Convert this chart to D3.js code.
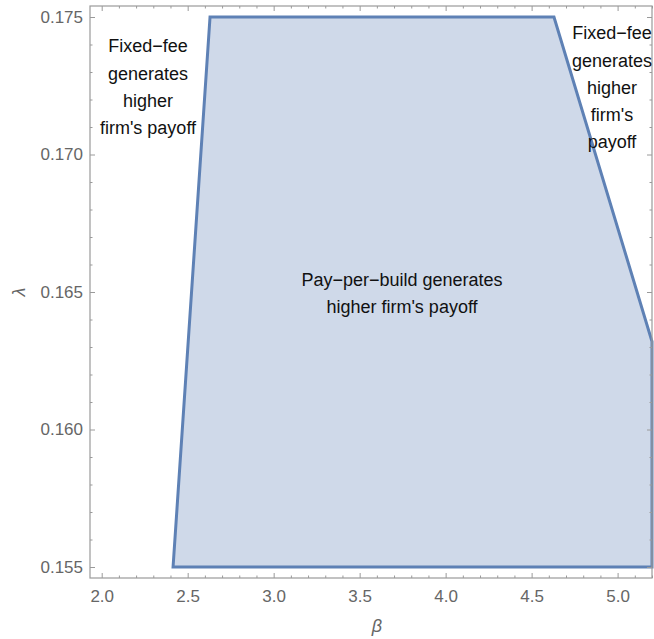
<!DOCTYPE html>
<html>
<head>
<meta charset="utf-8">
<script src="https://cdn.jsdelivr.net/npm/d3@7"></script>
<style>
	body { margin: 0; background: #fff; }
	svg { display: block; font-family: "Liberation Sans", Arial, sans-serif; }
	.tick text { fill: #666; font-size: 17px; }
	.note { fill: #111; font-size: 18px; }
</style>
</head>
<body>
<svg width="654" height="639"></svg>
<script>
// Region boundary (beta, lambda)
var betaPts = [2.415, 2.63, 4.63, 5.2, 5.2];
var lambdaPts = [0.155, 0.175, 0.175, 0.1632, 0.155];

var xMajor = [2.0, 2.5, 3.0, 3.5, 4.0, 4.5, 5.0];
var yMajor = [0.155, 0.160, 0.165, 0.170, 0.175];

var leftNote = ["Fixed\u2212fee", "generates", "higher", "firm's payoff"];
var rightNote = ["Fixed\u2212fee", "generates", "higher", "firm's", "payoff"];
var midNote = ["Pay\u2212per\u2212build generates", "higher firm's payoff"];

var svg = d3.select("svg"),
	frameColor = "#9a9a9a";

// Plot frame in pixels (note: "top" is taken by window.top)
var fLeft = 90, fRight = 652, fTop = 6, fBottom = 578;

var x = d3.scaleLinear().domain([1.932, 5.2]).range([fLeft, fRight]);
var y = d3.scaleLinear().domain([0.1546, 0.1754]).range([fBottom, fTop]);

// minor ticks
var xMinor = d3.range(19, 53).map((d) => d / 10).filter((d) => xMajor.indexOf(d) < 0 && d >= 1.94);
var yMinor = d3.range(155, 176).map((d) => d / 1000).filter((d) => !yMajor.some((m) => Math.abs(m - d) < 1e-9));

// Region
var pts = betaPts.map((b, i) => [x(b), y(lambdaPts[i])]);
svg.append("path")
	.attr("d", d3.line()(pts) + "Z")
	.attr("fill", "#cfd9e9")
	.attr("stroke", "#5e81b5")
	.attr("stroke-width", 3)
	.attr("stroke-linejoin", "miter");

// Frame
svg.append("rect")
	.attr("x", fLeft).attr("y", fTop)
	.attr("width", fRight - fLeft).attr("height", fBottom - fTop)
	.attr("fill", "none")
	.attr("stroke", frameColor)
	.attr("stroke-width", 1.2);

function styleAxis(g) {
	g.select(".domain").remove();
	g.selectAll("line").attr("stroke", frameColor);
}

// Bottom / top axes
svg.append("g").attr("transform", "translate(0," + fBottom + ")")
	.call(d3.axisBottom(x).tickValues(xMajor).tickFormat(d3.format(".1f")).tickSizeInner(-5).tickPadding(12))
	.call(styleAxis);
svg.append("g").attr("transform", "translate(0," + fBottom + ")")
	.call(d3.axisBottom(x).tickValues(xMinor).tickFormat("").tickSizeInner(-2.5))
	.call(styleAxis);
svg.append("g").attr("transform", "translate(0," + fTop + ")")
	.call(d3.axisTop(x).tickValues(xMajor).tickFormat("").tickSizeInner(-5))
	.call(styleAxis);
svg.append("g").attr("transform", "translate(0," + fTop + ")")
	.call(d3.axisTop(x).tickValues(xMinor).tickFormat("").tickSizeInner(-2.5))
	.call(styleAxis);

// Left / right axes
svg.append("g").attr("transform", "translate(" + fLeft + ",0)")
	.call(d3.axisLeft(y).tickValues(yMajor).tickFormat(d3.format(".3f")).tickSizeInner(-5).tickPadding(7))
	.call(styleAxis);
svg.append("g").attr("transform", "translate(" + fLeft + ",0)")
	.call(d3.axisLeft(y).tickValues(yMinor).tickFormat("").tickSizeInner(-2.5))
	.call(styleAxis);
svg.append("g").attr("transform", "translate(" + fRight + ",0)")
	.call(d3.axisRight(y).tickValues(yMajor).tickFormat("").tickSizeInner(-5))
	.call(styleAxis);
svg.append("g").attr("transform", "translate(" + fRight + ",0)")
	.call(d3.axisRight(y).tickValues(yMinor).tickFormat("").tickSizeInner(-2.5))
	.call(styleAxis);

// Axis labels
svg.append("text")
	.attr("x", (fLeft + fRight) / 2 + 6).attr("y", 632)
	.attr("text-anchor", "middle")
	.attr("fill", "#666")
	.style("font-size", "18px")
	.style("font-style", "italic")
	.text("\u03b2");
svg.append("text")
	.attr("transform", "translate(25," + ((fTop + fBottom) / 2) + ") rotate(-90)")
	.attr("text-anchor", "middle")
	.attr("fill", "#666")
	.style("font-size", "18px")
	.style("font-style", "italic")
	.text("\u03bb");

// Annotations
function note(lines, cx, cy0, step) {
	svg.append("text")
		.attr("class", "note")
		.attr("text-anchor", "middle")
		.selectAll("tspan")
		.data(lines)
		.enter().append("tspan")
		.attr("x", cx)
		.attr("y", (d, i) => cy0 + i * step)
		.attr("dy", "0.35em")
		.text((d) => d);
}

note(leftNote, 148, 46, 27.3);
note(rightNote, 612, 33, 27.2);
note(midNote, 402, 280, 27);
</script>
</body>
</html>
